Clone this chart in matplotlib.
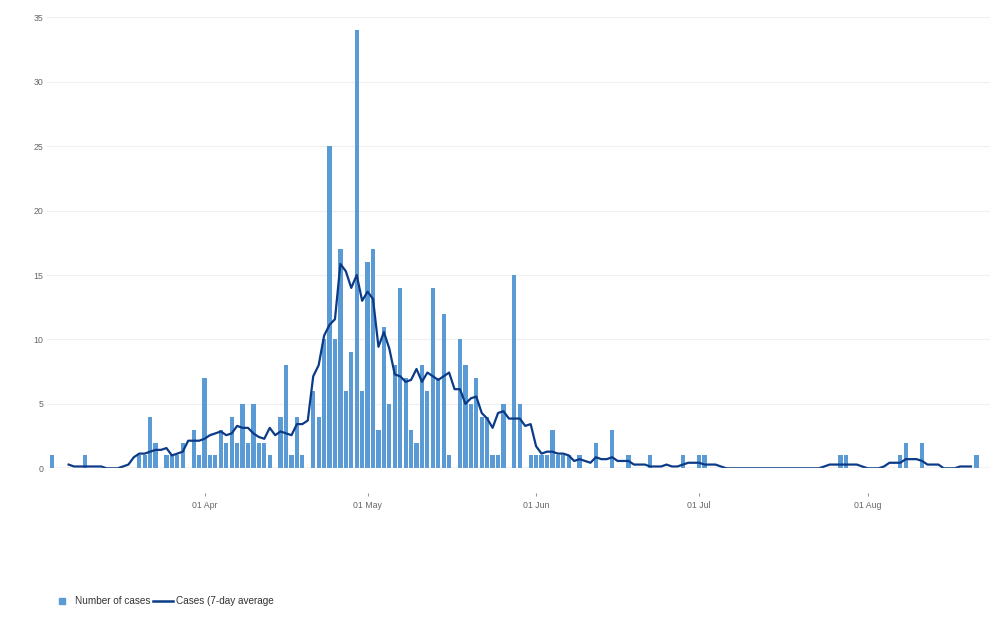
import matplotlib
matplotlib.use("Agg")
import matplotlib.pyplot as plt
import matplotlib.dates as mdates
from matplotlib.lines import Line2D
import pandas as pd

plt.rcParams['font.family'] = ['Liberation Sans', 'DejaVu Sans']

# Daily number of cases, starting 04 Mar
cases_mar = [1, 0, 0, 0, 0, 0, 1, 0, 0, 0, 0, 0, 0, 0, 0, 0, 1, 1, 4, 2,
             0, 1, 1, 1, 2, 0, 3, 1]
cases_apr = [7, 1, 1, 3, 2, 4, 2, 5, 2, 5, 2, 2, 1, 0, 4, 8, 1, 4, 1, 0,
             6, 4, 10, 25, 10, 17, 6, 9, 34, 6]
cases_may = [16, 17, 3, 11, 5, 8, 14, 7, 3, 2, 8, 6, 14, 7, 12, 1, 0, 10, 8, 5,
             7, 4, 4, 1, 1, 5, 0, 15, 5, 0, 1]
cases_jun = [1, 1, 1, 3, 1, 1, 1, 0, 1, 0, 0, 2, 0, 0, 3, 0, 0, 1, 0, 0,
             0, 1, 0, 0, 0, 0, 0, 1, 0, 0]
cases_jul = [1, 1, 0, 0, 0, 0, 0, 0, 0, 0, 0, 0, 0, 0, 0, 0, 0, 0, 0, 0,
             0, 0, 0, 0, 0, 0, 1, 1, 0, 0, 0]
cases_aug = [0, 0, 0, 0, 0, 0, 1, 2, 0, 0, 2, 0, 0, 0, 0, 0, 0, 0, 0, 0,
             1, 0, 0]
cases = cases_mar + cases_apr + cases_may + cases_jun + cases_jul + cases_aug
start_date = "2020-03-04"

# Cases (7-day average), starting 07 Mar
avg_mar = [0.29, 0.14, 0.14, 0.14, 0.14, 0.14, 0.14, 0, 0, 0, 0.14, 0.29, 0.86,
           1.14, 1.14, 1.29, 1.43, 1.43, 1.57, 1.0, 1.14, 1.29, 2.14, 2.14, 2.14]
avg_apr = [2.29, 2.57, 2.71, 2.86, 2.57, 2.71, 3.29, 3.14, 3.14, 2.71,
           2.43, 2.29, 3.14, 2.57, 2.86, 2.71, 2.57, 3.43, 3.43, 3.71,
           7.14, 8.0, 10.29, 11.14, 11.57, 15.86, 15.29, 14.0, 15.0, 13.0]
avg_may = [13.71, 13.14, 9.43, 10.57, 9.29, 7.29, 7.14, 6.71, 6.86, 7.71,
           6.71, 7.43, 7.14, 6.86, 7.14, 7.43, 6.14, 6.14, 5.0, 5.43,
           5.57, 4.29, 3.86, 3.14, 4.29, 4.43, 3.86, 3.86, 3.86, 3.29, 3.43]
avg_jun = [1.71, 1.14, 1.29, 1.29, 1.14, 1.14, 1.0, 0.57, 0.71, 0.57,
           0.43, 0.86, 0.71, 0.71, 0.86, 0.57, 0.57, 0.57, 0.29, 0.29,
           0.29, 0.14, 0.14, 0.14, 0.29, 0.14, 0.14, 0.29, 0.43, 0.43]
avg_jul = [0.43, 0.29, 0.29, 0.29, 0.14, 0, 0, 0, 0, 0, 0, 0, 0, 0, 0, 0,
           0, 0, 0, 0, 0, 0, 0, 0.14, 0.29, 0.29, 0.29, 0.29, 0.29, 0.29, 0.14]
avg_aug = [0, 0, 0, 0.14, 0.43, 0.43, 0.43, 0.71, 0.71, 0.71, 0.57, 0.29,
           0.29, 0.29, 0, 0, 0, 0.14, 0.14, 0.14]
avg = avg_mar + avg_apr + avg_may + avg_jun + avg_jul + avg_aug
avg_start = "2020-03-07"

month_ticks = ["2020-04-01", "2020-05-01", "2020-06-01", "2020-07-01", "2020-08-01"]
y_ticks = [0, 5, 10, 15, 20, 25, 30, 35]

legend_labels = ["Number of cases", "Cases (7-day average"]

bar_color = "#5b9bd5"
line_color = "#0b3a87"

dates = pd.date_range(start_date, periods=len(cases), freq="D")
avg_dates = pd.date_range(avg_start, periods=len(avg), freq="D")

fig = plt.figure(figsize=(10, 6.18), dpi=100)
ax = fig.add_axes([0.0467, 0.24223, 0.9433, 0.72978])

ax.bar(dates, cases, width=0.78, color=bar_color, zorder=2, linewidth=0)
ax.plot(avg_dates, avg, color=line_color, lw=1.6, zorder=3,
        solid_joinstyle="round")

ax.set_ylim(0, 35)
ax.set_yticks(y_ticks)
ax.grid(axis="y", color="#efefef", lw=0.8, zorder=0)
ax.axhline(0, color="#a0a0a0", lw=0.9, zorder=4)

x0 = pd.Timestamp(start_date)
ax.set_xlim(x0 - pd.Timedelta(hours=24.7), x0 + pd.Timedelta(hours=172.5 * 24))
ax.set_xticks(pd.to_datetime(month_ticks))
ax.xaxis.set_major_formatter(mdates.DateFormatter("%d %b"))

for s in ax.spines.values():
    s.set_visible(False)
ax.spines["bottom"].set_position(("outward", 18))

ax.tick_params(axis="x", length=2.4, width=0.8, color="#999999", pad=3,
               labelsize=6.3, labelcolor="#666666")
ax.tick_params(axis="y", length=0, pad=2.5, labelsize=6.3, labelcolor="#666666")

handles = [
    Line2D([], [], marker="s", linestyle="none", color=bar_color, markersize=5.0),
    Line2D([], [], color=line_color, lw=1.8),
]
fig.legend(handles, legend_labels, loc="center left",
           bbox_to_anchor=(0.052, 0.0275), ncol=2, frameon=False,
           fontsize=7.2, handlelength=2.0, handletextpad=0.3,
           columnspacing=0.3, borderpad=0, borderaxespad=0,
           labelcolor="#333333")

fig.savefig("out.png", dpi=100)
